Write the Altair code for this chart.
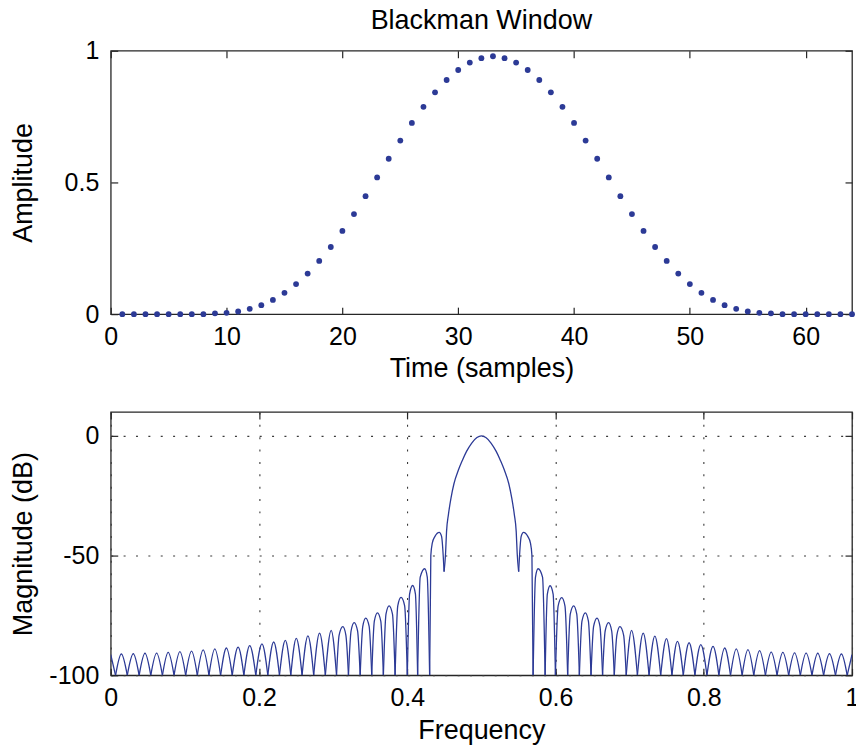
import altair as alt
import pandas as pd

BLUE = "#2c3a96"
AXIS_COLOR = "#262626"
FONT = "Liberation Sans"
W, H = 743, 264

# ---------------- top panel: window samples ----------------
sample_n = list(range(1, 65))
amplitude = [0.000, 0.000, 0.000, 0.000, 0.000, 0.000, 0.000, 0.000,
             0.003, 0.005, 0.010, 0.020, 0.034, 0.054, 0.081, 0.114,
             0.154, 0.202, 0.255, 0.316, 0.380, 0.448, 0.519, 0.590,
             0.659, 0.726, 0.787, 0.842, 0.889, 0.927, 0.955, 0.972,
             0.979,
             0.972, 0.955, 0.927, 0.889, 0.842, 0.787, 0.726, 0.659,
             0.590, 0.519, 0.448, 0.380, 0.316, 0.255, 0.202, 0.154,
             0.114, 0.081, 0.054, 0.034, 0.020, 0.010, 0.005, 0.003,
             0.000, 0.000, 0.000, 0.000, 0.000, 0.000, 0.000]

x_ticks_top = [0, 10, 20, 30, 40, 50, 60]
y_ticks_top = [0, 0.5, 1]
x_ticks_bot = [0, 0.2, 0.4, 0.6, 0.8, 1]
y_ticks_bot = [-100, -50, 0]

# ---------------- bottom panel: magnitude response ----------------
edge_left_f = [0.0, 0.0065]
edge_left_db = [-91.4, -100]

left_null_f = [0.0065, 0.0223, 0.0383, 0.0540, 0.0697, 0.0854, 0.1011, 0.1168,
               0.1325, 0.1482, 0.1639, 0.1796, 0.1957, 0.2119, 0.2276, 0.2429,
               0.2581, 0.2738, 0.2895, 0.3046, 0.3207, 0.3365, 0.3521, 0.3678,
               0.3836, 0.4001, 0.4140, 0.4302, 0.4497]
left_null_db = [-100, -100, -100, -100, -100, -100, -100, -100,
                -100, -100, -100, -100, -100, -100, -100, -100,
                -100, -100, -100, -100, -100, -100, -100, -100,
                -100, -100, -100, -100, -56.7]
left_peak_f = [0.0143, 0.0304, 0.0462, 0.0619, 0.0775, 0.0933, 0.1090, 0.1247,
               0.1404, 0.1561, 0.1718, 0.1875, 0.2040, 0.2198, 0.2355, 0.2503,
               0.2660, 0.2817, 0.2974, 0.3131, 0.3284, 0.3440, 0.3598, 0.3755,
               0.3916, 0.4073, 0.4235, 0.4432]
left_peak_db = [-91.1, -91.0, -90.8, -90.7, -90.4, -90.1, -89.9, -89.4,
                -89.0, -88.6, -88.2, -87.6, -86.9, -86.1, -85.4, -84.6,
                -83.5, -82.4, -81.2, -79.7, -78.0, -76.1, -73.9, -71.0,
                -67.5, -62.5, -55.5, -40.3]

main_f = [0.4497, 0.4517, 0.4530, 0.4555, 0.4590, 0.4630, 0.4690, 0.4740,
          0.4800, 0.4870, 0.4940, 0.5000, 0.5060, 0.5130, 0.5200, 0.5260,
          0.5310, 0.5370, 0.5410, 0.5445, 0.5470, 0.5483, 0.5503]
main_db = [-56.7, -49.0, -40.0, -33.0, -26.0, -20.0, -14.3, -10.5,
           -6.5, -3.0, -0.7, 0.0, -0.7, -3.0, -6.5, -10.5,
           -14.3, -20.0, -26.0, -33.0, -40.0, -49.0, -56.7]

right_null_f = [0.5503, 0.5698, 0.5860, 0.5999, 0.6164, 0.6322, 0.6479, 0.6635,
                0.6793, 0.6954, 0.7105, 0.7262, 0.7419, 0.7571, 0.7724, 0.7881,
                0.8043, 0.8204, 0.8361, 0.8518, 0.8675, 0.8832, 0.8989, 0.9146,
                0.9303, 0.9460, 0.9617, 0.9777, 0.9935]
right_null_db = [-56.7, -100, -100, -100, -100, -100, -100, -100,
                 -100, -100, -100, -100, -100, -100, -100, -100,
                 -100, -100, -100, -100, -100, -100, -100, -100,
                 -100, -100, -100, -100, -100]
right_peak_f = [0.5568, 0.5765, 0.5927, 0.6084, 0.6245, 0.6402, 0.6560, 0.6716,
                0.6869, 0.7026, 0.7183, 0.7340, 0.7497, 0.7645, 0.7802, 0.7960,
                0.8125, 0.8282, 0.8439, 0.8596, 0.8753, 0.8910, 0.9067, 0.9225,
                0.9381, 0.9538, 0.9696, 0.9857]
right_peak_db = [-40.3, -55.5, -62.6, -67.6, -71.0, -73.9, -76.1, -78.0,
                 -79.7, -81.2, -82.4, -83.6, -84.7, -85.8, -86.4, -87.2,
                 -87.9, -88.6, -89.0, -89.3, -89.7, -90.3, -90.4, -90.6,
                 -90.7, -90.8, -91.0, -91.1]

edge_right_f = [0.9935, 1.0]
edge_right_db = [-100, -91.4]

# shoulders of the tall sidelobes next to the main lobe (lobe id, freq, dB)
shoulder_seg = ["L19", "L19", "L20", "L20", "L21", "L21", "L22", "L22",
                "L23", "L23", "L24", "L24", "L25", "L25", "L26", "L26",
                "L27", "L27", "L27", "L27",
                "R0", "R0", "R0", "R0",
                "R1", "R1", "R2", "R2", "R3", "R3", "R4", "R4",
                "R5", "R5", "R6", "R6", "R7", "R7", "R8", "R8"]
shoulder_f = [0.3081, 0.3172, 0.3242, 0.3330, 0.3400, 0.3486, 0.3556, 0.3643,
              0.3713, 0.3801, 0.3872, 0.3965, 0.4032, 0.4110, 0.4175, 0.4270,
              0.4318, 0.4338, 0.4374, 0.4463,
              0.5537, 0.5626, 0.5662, 0.5682,
              0.5730, 0.5825, 0.5890, 0.5968, 0.6035, 0.6128, 0.6199, 0.6287,
              0.6357, 0.6444, 0.6514, 0.6600, 0.6670, 0.6758, 0.6828, 0.6919]
shoulder_db = [-83.2, -83.2, -81.5, -81.5, -79.6, -79.6, -77.4, -77.4,
               -74.5, -74.5, -71.0, -71.0, -66.0, -66.0, -59.0, -59.0,
               -50.0, -44.8, -42.0, -42.0,
               -42.0, -42.0, -44.8, -50.0,
               -59.0, -59.0, -66.1, -66.1, -71.1, -71.1, -74.5, -74.5,
               -77.4, -77.4, -79.6, -79.6, -81.5, -81.5, -83.2, -83.2]

# ---------------- build tables ----------------
df_top = pd.DataFrame({"n": sample_n, "amp": amplitude})

rows = []
for f, d in zip(edge_left_f, edge_left_db):
    rows.append({"seg": "edgeL", "f": f, "db": d})
for i in range(len(left_peak_f)):
    s = f"L{i}"
    rows.append({"seg": s, "f": left_null_f[i], "db": left_null_db[i]})
    rows.append({"seg": s, "f": left_peak_f[i], "db": left_peak_db[i]})
    rows.append({"seg": s, "f": left_null_f[i + 1], "db": left_null_db[i + 1]})
for f, d in zip(main_f, main_db):
    rows.append({"seg": "main", "f": f, "db": d})
for i in range(len(right_peak_f)):
    s = f"R{i}"
    rows.append({"seg": s, "f": right_null_f[i], "db": right_null_db[i]})
    rows.append({"seg": s, "f": right_peak_f[i], "db": right_peak_db[i]})
    rows.append({"seg": s, "f": right_null_f[i + 1], "db": right_null_db[i + 1]})
for f, d in zip(edge_right_f, edge_right_db):
    rows.append({"seg": "edgeR", "f": f, "db": d})
for s, f, d in zip(shoulder_seg, shoulder_f, shoulder_db):
    rows.append({"seg": s, "f": f, "db": d})
df_bot = pd.DataFrame(rows).sort_values(["seg", "f"]).reset_index(drop=True)

# ---------------- helpers ----------------
label_style = dict(labelFont=FONT, labelFontSize=25, labelColor="#000",
                   labelExpr="toString(datum.value)", labelFlush=False,
                   labelOverlap=False)
title_style = dict(titleFont=FONT, titleFontSize=27, titleFontWeight="normal",
                   titleColor="#000")
grid_style = dict(grid=True, gridDash=[2, 10.4], gridColor="#3a3a3a", gridWidth=1.1)


def tick_axis(orient, offset, values):
    return alt.Axis(orient=orient, offset=offset, values=values, labels=False,
                    domain=False, grid=False, ticks=True, tickSize=7,
                    tickWidth=1.2, tickColor=AXIS_COLOR)


def panel(data, main_mark, xf, yf, xscale, yscale, xvals, yvals,
          xtitle, ytitle, grid):
    extra = grid_style if grid else dict(grid=False)
    main = main_mark.encode(
        x=alt.X(xf, scale=xscale,
                axis=alt.Axis(orient="bottom", values=xvals, title=xtitle,
                              ticks=False, domain=False, labelPadding=10,
                              titleY=55, titleBaseline="middle",
                              **label_style, **title_style, **extra)),
        y=alt.Y(yf, scale=yscale,
                axis=alt.Axis(orient="left", values=yvals, title=ytitle,
                              ticks=False, domain=False, labelPadding=12,
                              titleX=-87, titleBaseline="middle",
                              **label_style, **title_style, **extra)),
    )
    t1 = alt.Chart(data).mark_point(opacity=0).encode(
        x=alt.X(xf, scale=xscale, title=None, axis=tick_axis("top", -H, xvals)),
        y=alt.Y(yf, scale=yscale, title=None, axis=tick_axis("right", -W, yvals)),
    )
    t2 = alt.Chart(data).mark_point(opacity=0).encode(
        x=alt.X(xf, scale=xscale, title=None, axis=tick_axis("bottom", -H, xvals)),
        y=alt.Y(yf, scale=yscale, title=None, axis=tick_axis("left", -W, yvals)),
    )
    return alt.layer(main, t1, t2).resolve_axis(x="independent", y="independent")


top_mark = alt.Chart(df_top).mark_circle(size=34, color=BLUE, opacity=1)
top = panel(df_top, top_mark, "n:Q", "amp:Q",
            alt.Scale(domain=[0, 64], nice=False, zero=False),
            alt.Scale(domain=[0, 1], nice=False),
            x_ticks_top, y_ticks_top, "Time (samples)", "Amplitude", False
            ).properties(
    width=W, height=H,
    title=alt.TitleParams("Blackman Window", font=FONT, fontSize=27,
                          fontWeight="normal", color="#000", anchor="middle",
                          offset=4),
)

bot_mark = alt.Chart(df_bot).mark_line(interpolate="monotone", color=BLUE,
                                       strokeWidth=1.3, clip=True)
bot_main = bot_mark.encode(detail="seg:N")
bottom = panel(df_bot, bot_main, "f:Q", "db:Q",
               alt.Scale(domain=[0, 1], nice=False, zero=False),
               alt.Scale(domain=[-100, 10], nice=False, zero=False),
               x_ticks_bot, y_ticks_bot, "Frequency", "Magnitude (dB)", True
               ).properties(width=W, height=H)

chart = alt.vconcat(top, bottom, spacing=98, bounds="flush").configure_view(
    stroke=AXIS_COLOR, strokeWidth=1.3
).properties(
    padding={"left": 9, "top": 5, "right": -4, "bottom": 0},
    background="white",
)

chart.save("out.html", embed_options={"renderer": "svg", "actions": False})
